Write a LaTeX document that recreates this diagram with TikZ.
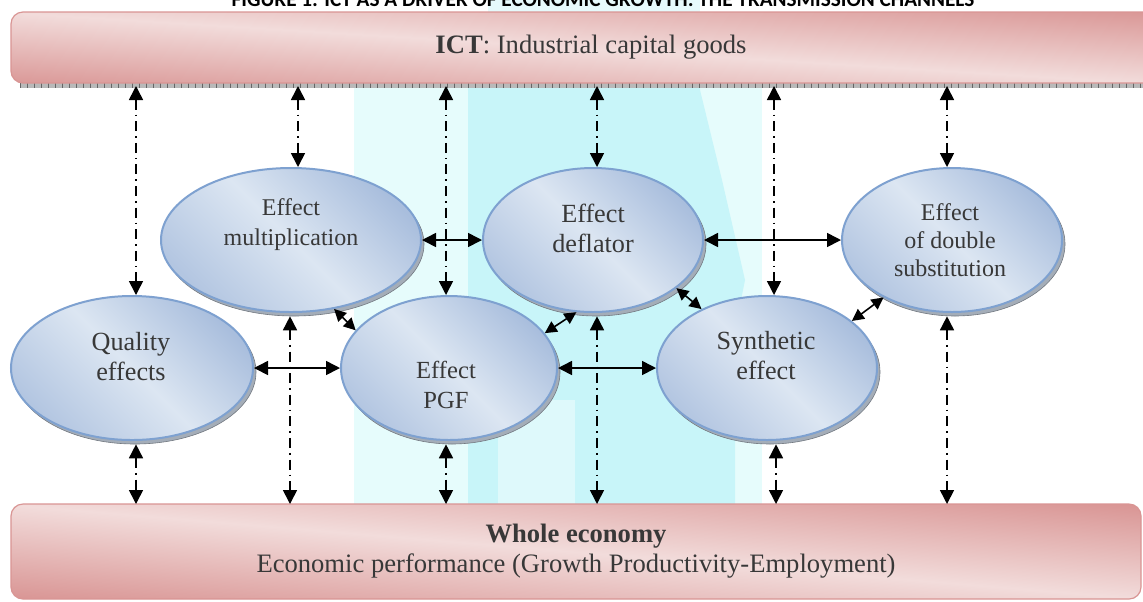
\documentclass[tikz,border=0pt]{standalone}
\usepackage{fontspec}
\setmainfont{Liberation Serif}
\newfontfamily\titlefont{Carlito}
\usetikzlibrary{arrows.meta,shapes.geometric}

\definecolor{barlight}{HTML}{F2DCDB}
\definecolor{bardark}{HTML}{D99594}
\definecolor{barline}{HTML}{D99594}
\definecolor{elllight}{HTML}{DCE6F2}
\definecolor{elldark}{HTML}{A9BEDD}
\definecolor{ellline}{HTML}{7EA1D0}
\definecolor{ellshadow}{HTML}{A4ADB8}
\definecolor{txtgray}{HTML}{383838}
\definecolor{aqua}{HTML}{C8F5F9}
\definecolor{aqualight}{HTML}{E6FCFC}

% one bubble: name, centre x, centre y, half width, half height (units of 0.5pt)
\newcommand\bubbleat[5]{%
  \node[bubbleshadow, minimum width=#4pt, minimum height=#5pt] (#1s) at (#2+3,#3+4) {};
  \node[bubble, minimum width=#4pt, minimum height=#5pt] (#1) at (#2,#3) {};
}

\begin{document}
\begin{tikzpicture}[x=0.5pt,y=-0.5pt,
  bar/.style={rectangle, rounded corners=6pt, draw=barline, line width=0.6pt,
    text=txtgray, font=\fontsize{13.3}{15}\selectfont, align=center, inner sep=0pt},
  barshade/.style={top color=bardark, bottom color=bardark, middle color=barlight},
  bubble/.style={ellipse, draw=ellline, line width=1pt, top color=elldark,
    bottom color=elldark!80!elllight, middle color=elllight, shading angle=-45, inner sep=0pt},
  bubbleshadow/.style={ellipse, draw=ellshadow!70!black, line width=0.3pt, fill=ellshadow, inner sep=0pt},
  bubbletext/.style={text=txtgray, align=center, inner sep=0pt},
  link/.style={{Triangle[length=7pt,width=7pt]}-{Triangle[length=7pt,width=7pt]}, line width=0.8pt},
  shortlink/.style={{Triangle[length=6pt,width=6pt]}-{Triangle[length=6pt,width=6pt]}, line width=0.8pt},
  dashlink/.style={link, line width=0.8pt, dash pattern=on 5pt off 2.5pt on 0.8pt off 2.5pt},
]
\useasboundingbox (0,0) rectangle (1143,601);
\clip (0,0) rectangle (1143,601);
\fill[white] (0,0) rectangle (1143,601);

% pale aqua band behind the middle of the diagram
\fill[aqua!45] (488,0) rectangle (700,14);
\fill[aqualight] (354,14) rectangle (762,504);
\fill[aqua] (468,14) -- (700,14) -- (700,90) -- (722,180) -- (745,280) -- (735,330)
  -- (735,504) -- (468,504) -- cycle;
\fill[aqua!60!white] (498,400) rectangle (575,504);

% caption
\node[font=\titlefont\bfseries\fontsize{10.6}{12}\selectfont, anchor=base, inner sep=0pt]
  (title) at (603,6.5) {FIGURE 1: ICT AS A DRIVER OF ECONOMIC GROWTH: THE TRANSMISSION CHANNELS};

% top bar: diagonal pink gradient and hatched lower edge
\fill[gray!55] (20,82) rectangle (1143,88);
\foreach \k in {0,...,160} \draw[gray!80!black, line width=0.3pt] (20+7*\k,82) -- (20+7*\k,88);
\begin{scope}
  \clip[rounded corners=6pt] (11,12) rectangle (1171,83);
  \begin{scope}[transform canvas={yslant=-0.0621}]
    \shade[barshade] (-20,-62) rectangle (1200,86);
  \end{scope}
\end{scope}
\node[bar, minimum width=580pt, minimum height=35.5pt] (ictbar) at (591,47.5)
  {\textbf{ICT}: Industrial capital goods};

% bottom bar
\begin{scope}
  \clip[rounded corners=6pt] (11,504) rectangle (1141,599);
  \begin{scope}[transform canvas={yslant=-0.0831}]
    \shade[barshade] (-20,410) rectangle (1200,598);
  \end{scope}
\end{scope}
\node[bar, minimum width=565pt, minimum height=47.5pt] (econ) at (576,551.5)
  {\textbf{Whole economy}\\Economic performance (Growth Productivity-Employment)};

% channels
\bubbleat{mult}{291}{240}{130}{72}
\bubbleat{defl}{593}{240}{110}{72}
\bubbleat{dbl}{952}{240}{110}{72}
\bubbleat{qual}{132}{368}{121}{72}
\bubbleat{pgf}{449}{368}{108}{72}
\bubbleat{syn}{767}{368}{110}{72}

\node[bubbletext, font=\fontsize{12}{15}\selectfont] (multt) at (291,225) {Effect\\multiplication};
\node[bubbletext, font=\fontsize{13.1}{15}\selectfont] (deflt) at (593,228) {Effect\\deflator};
\node[bubbletext, font=\fontsize{12}{14}\selectfont] (dblt) at (950,240) {Effect\\of double\\substitution};
\node[bubbletext, font=\fontsize{13.1}{15}\selectfont] (qualt) at (131,357) {Quality\\effects};
\node[bubbletext, font=\fontsize{12.3}{15}\selectfont] (pgft) at (446,385) {Effect\\PGF};
\node[bubbletext, font=\fontsize{13.1}{15}\selectfont] (synt) at (766,356) {Synthetic\\effect};

% ends of the vertical links on the two bars
\coordinate (t1) at (136,86);
\coordinate (t2) at (298,86);
\coordinate (t3) at (446,86);
\coordinate (t4) at (597,86);
\coordinate (t5) at (774,86);
\coordinate (t6) at (947,86);
\coordinate (b1) at (136,504);
\coordinate (b2) at (290,504);
\coordinate (b3) at (446,504);
\coordinate (b4) at (597,504);
\coordinate (b5) at (776,504);
\coordinate (b6) at (947,504);

% links to the capital goods bar
\draw[dashlink] (t1) -- (t1 |- qual.north);
\draw[dashlink] (t2) -- (t2 |- mult.north);
\draw[dashlink] (t3) -- (t3 |- pgf.north);
\draw[dashlink] (t4) -- (t4 |- defl.north);
\draw[dashlink] (t5) -- (t5 |- syn.north);
\draw[dashlink] (t6) -- (t6 |- dbl.north);

% links to the whole economy bar
\draw[dashlink] (b1 |- quals.south) -- (b1);
\draw[dashlink] (b2 |- mults.south) -- (b2);
\draw[dashlink] (b3 |- pgfs.south) -- (b3);
\draw[dashlink] (b4 |- defls.south) -- (b4);
\draw[dashlink] (b5 |- syns.south) -- (b5);
\draw[dashlink] (b6 |- dbls.south) -- (b6);

% links between the channels
\draw[link] (mult.east) -- (defl.west);
\draw[link] (defl.east) -- (dbl.west);
\draw[link] (qual.east) -- (pgf.west);
\draw[link] (pgf.east) -- (syn.west);
\draw[shortlink] (mult.-58) -- (pgf.158);
\draw[shortlink] (pgf.20) -- (defl.257);
\draw[shortlink] (defl.-30) -- (syn.138);
\draw[shortlink] (syn.29) -- (dbl.220);
\end{tikzpicture}
\end{document}
